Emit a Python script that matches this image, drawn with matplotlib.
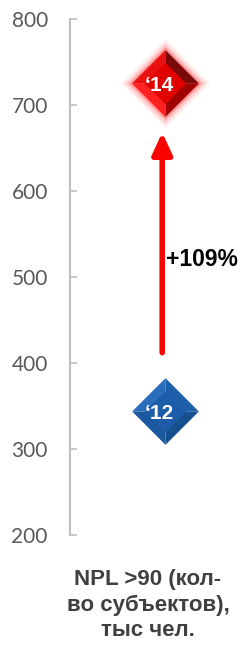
"""NPL >90 chart: two period markers with a growth arrow."""

import matplotlib
matplotlib.use("Agg")
import matplotlib.pyplot as plt
from matplotlib.path import Path

plt.rcParams["font.family"] = ["Lato", "Liberation Sans", "DejaVu Sans"]
BOLD = ["Liberation Sans", "DejaVu Sans"]

# data
periods = ["\u201812", "\u201814"]
values = [344, 726]
arrow_from, arrow_to = 412, 668
growth_label = "+109%"
y_ticks = [200, 300, 400, 500, 600, 700, 800]
x_label = "NPL >90 (кол-\nво субъектов),\nтыс чел."

X = 0.545  # horizontal slot for the single category

DIAMOND = Path([(0, 1), (1, 0), (0, -1), (-1, 0), (0, 1)])
# bevel facets (same scale as the full diamond because max |v| = 1)
FACET_TL = Path([(0, 0), (-1, 0), (0, 1), (0, 0)])
FACET_TR = Path([(0, 0), (0, 1), (1, 0), (0, 0)])
FACET_BR = Path([(0, 0), (1, 0), (0, -1), (0, 0)])
FACET_BL = Path([(0, 0), (0, -1), (-1, 0), (0, 0)])


def draw_gem(ax, y, colors, size=48, glow=None):
    if glow:
        for k, a in [(16, 0.10), (11, 0.18), (6, 0.30), (3, 0.45)]:
            ax.plot(X, y, marker=DIAMOND, markersize=size + k, color=glow,
                    alpha=a, markeredgewidth=0, zorder=3)
    for facet, c in zip([FACET_TL, FACET_TR, FACET_BR, FACET_BL], colors):
        ax.plot(X, y, marker=facet, markersize=size, color=c,
                markeredgewidth=0, zorder=4)
    # flat table in the middle
    ax.plot(X, y, marker=DIAMOND, markersize=size * 0.62, color=colors[4],
            markeredgewidth=0, zorder=5)


fig = plt.figure(figsize=(2.44, 6.52), dpi=100)
ax = fig.add_axes([70 / 244, 117 / 652, 174 / 244, 516 / 652])

ax.set_ylim(200, 800)
ax.set_xlim(0, 1)
ax.set_yticks(y_ticks)
for s in ["top", "right", "bottom"]:
    ax.spines[s].set_visible(False)
ax.spines["left"].set_color("#BFBFBF")
ax.spines["left"].set_linewidth(1.5)
ax.set_xticks([])
ax.tick_params(axis="y", direction="in", length=5, width=1.2, color="#BFBFBF",
               labelcolor="#595959", labelsize=15, pad=16)

# 2012 - blue
draw_gem(ax, values[0], ["#2A6DBA", "#1E5FAA", "#16508F", "#1B58A0", "#1D5CA8"])
# 2014 - red with glow
draw_gem(ax, values[1], ["#E81010", "#7A0A0A", "#A00000", "#FF2020", "#E00000"],
         glow="#FF6060")

for p, v in zip(periods, values):
    ax.text(X - 0.03, v - 3, p, color="white", fontsize=15, fontweight="bold",
            family=BOLD, ha="center", va="center", zorder=6)

ax.annotate("", xy=(X - 0.015, arrow_to), xytext=(X - 0.015, arrow_from),
            arrowprops=dict(arrowstyle="-|>,head_length=0.65,head_width=0.3",
                            color="#FF0000", lw=4, mutation_scale=20,
                            shrinkA=0, shrinkB=0),
            zorder=2)
ax.text(0.553, 520, growth_label, fontsize=16.5, fontweight="bold",
        family=BOLD, color="black", ha="left", va="center")

fig.text(148 / 244, 1 - 605 / 652, x_label, ha="center", va="center",
         fontsize=16, fontweight="bold", family=BOLD, color="#404040",
         linespacing=1.3)

fig.savefig("out.png", dpi=100)
